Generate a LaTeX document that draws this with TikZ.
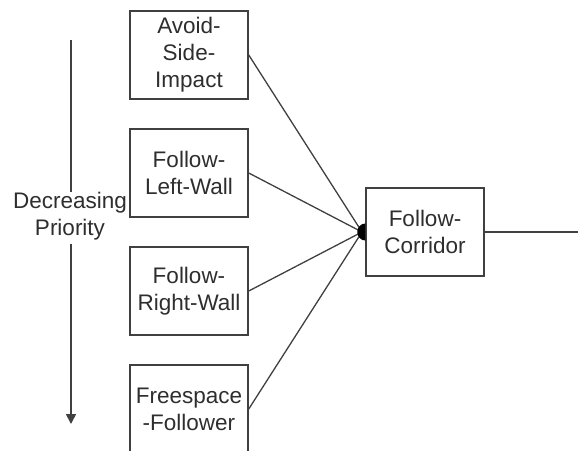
\documentclass[tikz,border=0pt]{standalone}
\usepackage{fontspec}
\setmainfont{Liberation Sans}
\usetikzlibrary{arrows.meta}
\definecolor{ink}{HTML}{2E2E2E}
\definecolor{edge}{HTML}{404040}
\begin{document}
\begin{tikzpicture}[x=1pt,y=-1pt,
  behaviour/.style={draw=edge,line width=1.5pt,minimum width=118pt,minimum height=88pt,
    inner sep=0pt,align=center,text=ink,font=\fontsize{22.5}{27}\selectfont},
  link/.style={draw=edge,line width=1.3pt},
  lbl/.style={text=ink,font=\fontsize{22.5}{27}\selectfont,inner sep=0pt,align=center}]
  \useasboundingbox (0,0) rectangle (578,450);
  % suppressed behaviours, highest priority at the top
  \node[behaviour] (asi) at (189,55)  {Avoid-\\Side-\\Impact};
  \node[behaviour] (flw) at (189,173) {Follow-\\Left-Wall};
  \node[behaviour] (frw) at (189,291) {Follow-\\Right-Wall};
  \node[behaviour] (ffo) at (189,409) {Freespace\\-Follower};
  % output behaviour
  \node[behaviour] (fc) at (425,232) {Follow-\\Corridor};
  \coordinate (join) at (362,232);
  \coordinate (out) at (578,232);
  \foreach \b in {asi,flw,frw,ffo}
    \draw[link] (\b.east) -- (join);
  % suppression node: half disc on the left side of the output box
  \begin{scope}
    \clip ([shift={(-12,-12)}]fc.west) rectangle ([shift={(0,12)}]fc.west);
    \fill[black] (fc.west) ellipse[x radius=8pt,y radius=8.5pt];
  \end{scope}
  \draw[link] (fc.east) -- (out);
  % priority axis
  \node[lbl] (prio) at (70,216) {Decreasing\\Priority};
  \coordinate (top) at (71,40);
  \coordinate (tip) at (71,424);
  \draw[draw=edge,line width=1.6pt] (top) -- (prio.north -| top);
  \draw[draw=edge,line width=1.6pt,-{Triangle[length=10pt,width=10pt]}] (prio.south -| top) ++(0,4) -- (tip);
\end{tikzpicture}
\end{document}
